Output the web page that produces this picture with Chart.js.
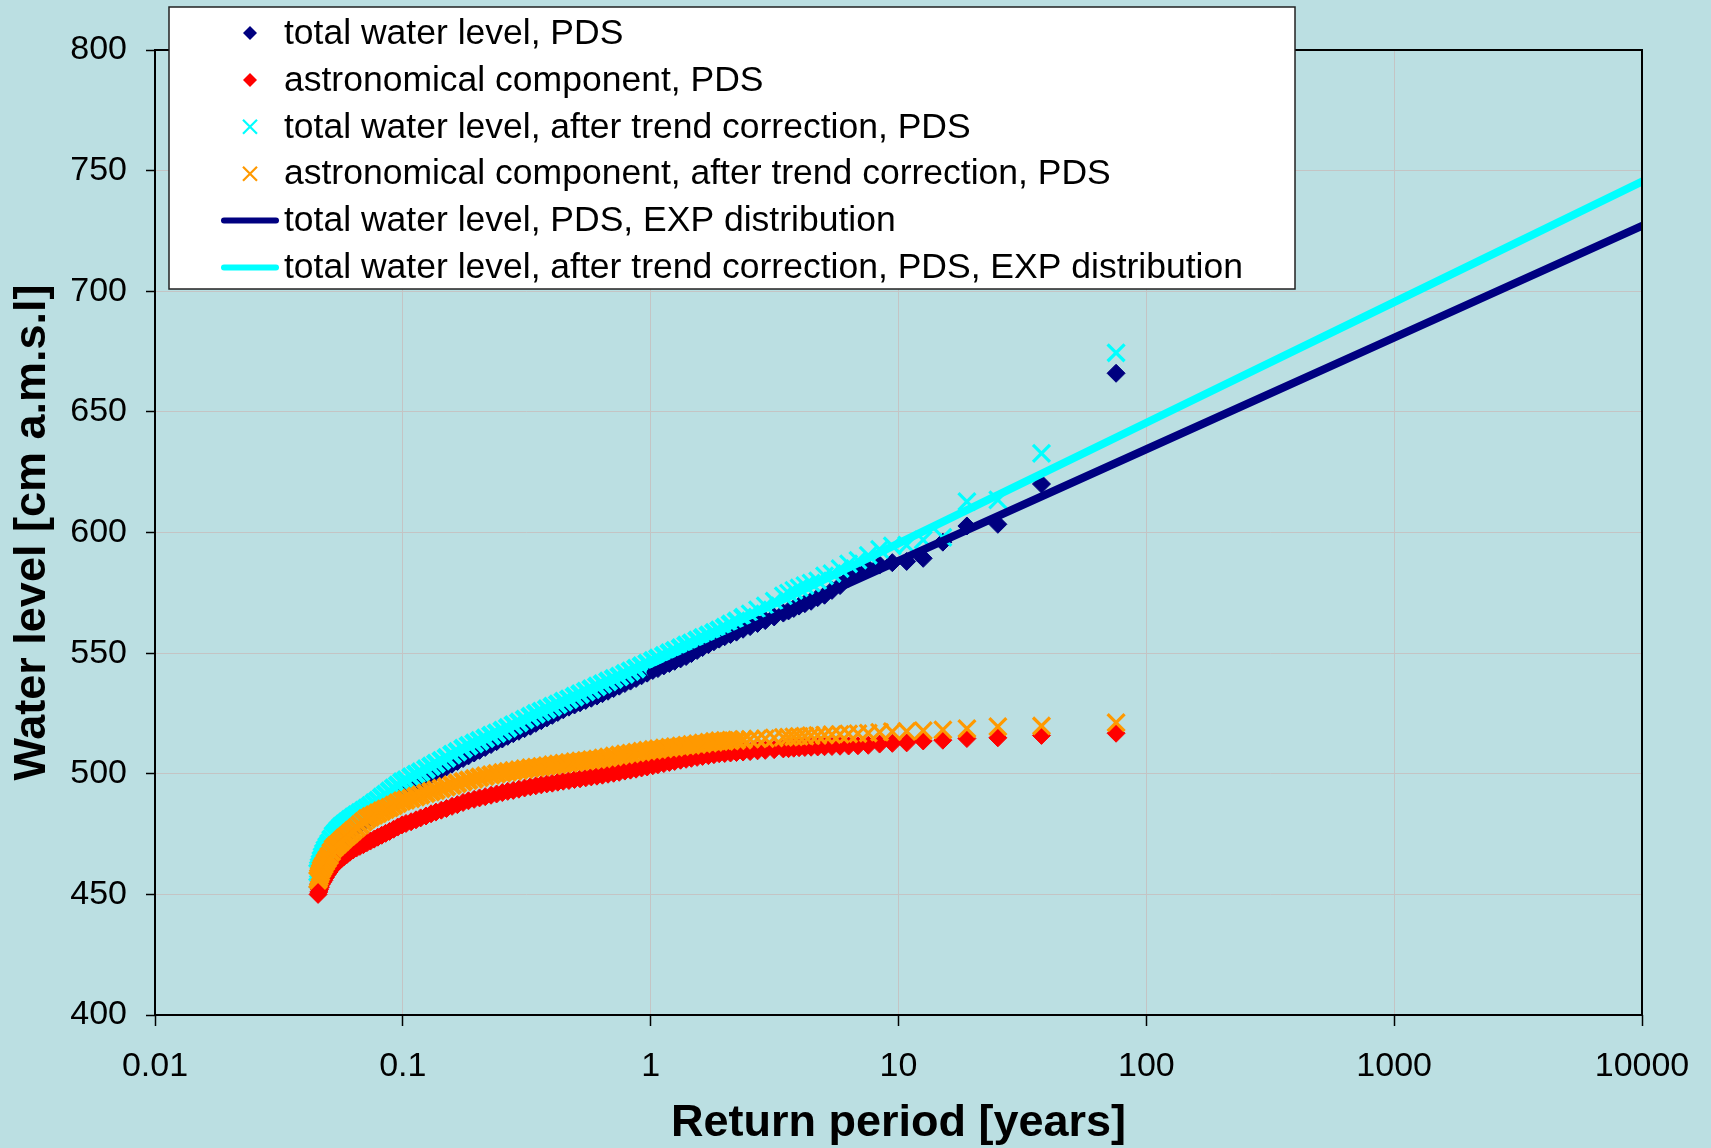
<!DOCTYPE html>
<html>
<head>
<meta charset="utf-8">
<title>Water level vs return period</title>
<script src="https://cdn.jsdelivr.net/npm/chart.js@4.4.1/dist/chart.umd.min.js"></script>
<style>
  html, body { margin: 0; padding: 0; background: #BBDFE2; }
  #wrap { width: 1711px; height: 1148px; }
</style>
</head>
<body>
<div id="wrap"><canvas id="chart" width="1711" height="1148"></canvas></div>
<script>
// Return periods [years] of the ranked peaks (shared by the four PDS series)
const returnPeriod = [
  0.0455, 0.0458, 0.0461, 0.0465, 0.0469, 0.0474, 0.0480, 0.0487, 0.0495, 0.0504,
  0.0514, 0.0525, 0.0537, 0.0550, 0.0564, 0.0579, 0.0595, 0.0612, 0.0630, 0.0650,
  0.0671, 0.0693, 0.0716, 0.0740, 0.0766, 0.0793, 0.0822, 0.0852, 0.0884, 0.0918,
  0.0954, 0.0992, 0.103, 0.108, 0.113, 0.118, 0.124, 0.130, 0.136, 0.143,
  0.150, 0.158, 0.166, 0.175, 0.184, 0.194, 0.204, 0.215, 0.227, 0.239,
  0.252, 0.265, 0.279, 0.294, 0.310, 0.327, 0.344, 0.362, 0.381, 0.401,
  0.422, 0.444, 0.468, 0.493, 0.519, 0.547, 0.576, 0.607, 0.639, 0.673,
  0.709, 0.747, 0.787, 0.829, 0.873, 0.919, 0.968, 1.02, 1.07, 1.13,
  1.19, 1.25, 1.32, 1.39, 1.46, 1.54, 1.62, 1.71, 1.80, 1.89,
  1.99, 2.10, 2.22, 2.36, 2.52, 2.70, 2.90, 3.15, 3.43, 3.60,
  3.78, 3.97, 4.19, 4.44, 4.72, 5.03, 5.39, 5.81, 6.29, 6.86,
  7.55, 8.39, 9.44, 10.79, 12.58, 15.10, 18.88, 25.17, 37.75, 75.50
];

// Total water level, PDS [cm a.m.s.l]
const totalPDS = [
  453.0, 454.3, 455.5, 456.8, 458.2, 459.4, 460.6, 462.2, 463.8, 465.3,
  466.5, 467.8, 469.2, 470.6, 472.1, 473.3, 474.5, 475.7, 476.9, 478.0,
  479.0, 480.0, 481.1, 482.2, 483.3, 484.4, 485.6, 486.7, 488.0, 489.2,
  490.5, 491.8, 492.8, 494.1, 495.4, 496.7, 498.0, 499.4, 500.6, 501.7,
  502.8, 504.0, 505.1, 506.3, 507.4, 508.6, 509.7, 510.9, 512.1, 513.3,
  514.4, 515.5, 516.6, 517.6, 518.7, 519.7, 520.9, 522.0, 523.1, 524.2,
  525.4, 526.5, 527.6, 528.5, 529.4, 530.4, 531.3, 532.2, 533.2, 534.2,
  535.3, 536.3, 537.4, 538.4, 539.5, 540.6, 541.7, 542.8, 543.6, 544.7,
  545.7, 546.6, 547.6, 548.6, 549.8, 551.1, 552.3, 553.5, 554.7, 555.8,
  556.8, 557.7, 558.7, 559.9, 561.0, 562.3, 563.5, 565.0, 566.6, 567.5,
  568.5, 569.5, 570.5, 571.5, 573.0, 574.0, 576.0, 578.0, 581.0, 583.0,
  585.0, 586.5, 587.5, 588.0, 589.3, 596.0, 602.7, 603.4, 620.1, 666.0
];

// Astronomical component, PDS
const astroPDS = [
  450.0, 451.0, 452.0, 453.0, 454.2, 455.0, 455.8, 457.0, 458.2, 459.3,
  460.5, 461.7, 462.6, 463.6, 464.6, 465.6, 466.5, 467.5, 468.4, 469.2,
  469.9, 470.6, 471.4, 472.1, 472.9, 473.7, 474.5, 475.3, 476.1, 477.0,
  477.9, 478.8, 479.4, 480.1, 480.9, 481.7, 482.5, 483.4, 484.1, 484.9,
  485.6, 486.5, 487.2, 488.1, 488.8, 489.4, 490.0, 490.5, 491.1, 491.6,
  492.2, 492.7, 493.1, 493.6, 494.1, 494.6, 495.0, 495.4, 495.8, 496.1,
  496.5, 496.9, 497.2, 497.6, 497.9, 498.3, 498.7, 499.0, 499.4, 499.8,
  500.2, 500.6, 501.1, 501.5, 501.9, 502.4, 502.8, 503.3, 503.7, 504.2,
  504.7, 505.1, 505.6, 506.0, 506.4, 506.8, 507.2, 507.5, 507.9, 508.3,
  508.4, 508.6, 508.8, 509.0, 509.2, 509.5, 509.7, 510.0, 510.3, 510.4,
  510.6, 510.8, 510.9, 511.0, 511.1, 511.2, 511.3, 511.4, 511.5, 511.6,
  511.8, 512.3, 512.6, 512.8, 513.6, 513.9, 514.6, 514.9, 515.9, 516.8
];

// Total water level after trend correction, PDS
const totalTrendPDS = [
  459.0, 460.3, 461.5, 462.8, 464.3, 465.8, 467.2, 468.6, 470.0, 471.3,
  472.9, 474.6, 475.7, 476.9, 478.1, 479.0, 480.0, 481.0, 481.9, 482.9,
  483.8, 484.7, 485.7, 486.7, 487.8, 488.9, 490.2, 491.4, 492.7, 494.0,
  495.2, 496.5, 497.4, 498.6, 499.7, 500.7, 501.9, 503.1, 504.2, 505.4,
  506.6, 507.9, 509.1, 510.4, 511.6, 512.6, 513.6, 514.7, 515.8, 516.8,
  517.9, 519.0, 520.2, 521.3, 522.5, 523.7, 524.8, 525.8, 526.8, 527.8,
  528.8, 529.9, 530.9, 532.0, 533.0, 534.1, 535.1, 536.2, 537.2, 538.3,
  539.3, 540.3, 541.4, 542.5, 543.6, 544.6, 545.7, 546.8, 547.8, 548.9,
  550.0, 551.0, 552.1, 553.2, 554.1, 555.3, 556.3, 557.4, 558.4, 559.4,
  560.6, 561.9, 563.2, 564.7, 566.3, 567.9, 569.6, 571.6, 573.7, 574.9,
  576.0, 577.0, 578.0, 579.0, 580.0, 582.0, 583.0, 585.0, 587.0, 588.5,
  590.5, 593.0, 594.5, 594.8, 596.9, 598.0, 612.8, 613.5, 632.8, 674.5
];

// Astronomical component after trend correction, PDS
const astroTrendPDS = [
  456.0, 457.0, 458.0, 459.0, 460.3, 461.2, 462.1, 463.4, 464.6, 465.9,
  467.5, 469.1, 470.1, 471.0, 472.1, 473.2, 474.2, 475.3, 476.4, 477.6,
  478.8, 480.1, 481.3, 482.1, 482.9, 483.7, 484.5, 485.3, 486.0, 486.9,
  487.8, 488.7, 489.2, 489.8, 490.5, 491.2, 491.9, 492.6, 493.2, 493.9,
  494.6, 495.3, 496.0, 496.7, 497.3, 497.9, 498.5, 499.0, 499.5, 500.0,
  500.4, 500.8, 501.2, 501.5, 501.9, 502.3, 502.6, 502.9, 503.2, 503.6,
  503.9, 504.2, 504.5, 504.8, 505.1, 505.4, 505.7, 506.0, 506.4, 506.8,
  507.2, 507.6, 508.0, 508.4, 508.8, 509.2, 509.6, 509.9, 510.2, 510.5,
  510.8, 511.1, 511.4, 511.7, 512.0, 512.3, 512.6, 512.9, 513.2, 513.5,
  513.6, 513.8, 513.9, 514.1, 514.3, 514.5, 514.6, 514.9, 515.1, 515.2,
  515.3, 515.5, 515.6, 515.8, 515.9, 516.0, 516.2, 516.3, 516.5, 516.6,
  516.8, 517.2, 517.5, 517.6, 517.9, 518.2, 518.7, 519.5, 519.8, 521.2
];

// Fitted exponential distributions
const fitPeriod = [1, 10, 100, 1000, 10000];
const totalFitEXP = [541.9, 588.2, 634.5, 680.8, 727.1];
const trendFitEXP = [545.5, 595.5, 645.5, 695.5, 745.5];

// Axis ticks
const xTickValues = [0.01, 0.1, 1, 10, 100, 1000, 10000];
const xTickLabels = ['0.01', '0.1', '1', '10', '100', '1000', '10000'];
const yTickMin = 400, yTickMax = 800, yTickStep = 50;

const seriesNames = [
  'total water level, PDS',
  'astronomical component, PDS',
  'total water level, after trend correction, PDS',
  'astronomical component, after trend correction, PDS',
  'total water level, PDS, EXP distribution',
  'total water level, after trend correction, PDS, EXP distribution'
];

const FONT = "'Liberation Sans', Arial, Helvetica, sans-serif";
const BG = '#BBDFE2';
const NAVY = '#000080', RED = '#FF0000', CYAN = '#00FFFF', ORANGE = '#FF9900';

const toPoints = (xs, ys) => xs.map((x, i) => ({ x: x, y: ys[i] }));

// Crosses in the crowded part of the series are stroked a little heavier
const crossStroke = (c) => (c.raw && c.raw.x < 2.5 ? 4.5 : 3.2);

function markerSet(label, ys, style, color, order) {
  const diamond = style === 'rectRot';
  return {
    label: label,
    data: toPoints(returnPeriod, ys),
    showLine: false,
    pointStyle: style,
    pointRadius: diamond ? 9 : 12,
    pointHoverRadius: diamond ? 9 : 12,
    pointBackgroundColor: color,
    pointBorderColor: color,
    pointBorderWidth: diamond ? 1 : crossStroke,
    borderColor: color,
    backgroundColor: color,
    order: order
  };
}

function fitLine(label, ys, color, order) {
  return {
    label: label,
    data: toPoints(fitPeriod, ys),
    showLine: true,
    borderColor: color,
    backgroundColor: color,
    borderWidth: 8,
    borderCapStyle: 'round',
    pointRadius: 0,
    pointHoverRadius: 0,
    tension: 0,
    fill: false,
    order: order
  };
}

// Page background
const backdrop = {
  id: 'backdrop',
  beforeDraw(chart) {
    const ctx = chart.ctx;
    ctx.save();
    ctx.fillStyle = BG;
    ctx.fillRect(0, 0, chart.width, chart.height);
    ctx.restore();
  }
};

// Black frame round the plot area
const frame = {
  id: 'frame',
  afterDatasetsDraw(chart) {
    const a = chart.chartArea, ctx = chart.ctx;
    ctx.save();
    ctx.strokeStyle = '#000';
    ctx.lineWidth = 2;
    ctx.strokeRect(a.left, a.top, a.right - a.left, a.bottom - a.top);
    ctx.restore();
  }
};

// Boxed legend in the upper left, overlapping the plot
const legendPanel = {
  id: 'legendPanel',
  afterDraw(chart) {
    const ctx = chart.ctx;
    const box = { x: 169, y: 7, w: 1126, h: 282 };
    const rowTop = 33, rowStep = 46.9;
    const symX = 250, textX = 284;
    ctx.save();
    ctx.fillStyle = '#FFFFFF';
    ctx.fillRect(box.x, box.y, box.w, box.h);
    ctx.strokeStyle = '#222';
    ctx.lineWidth = 1.5;
    ctx.strokeRect(box.x, box.y, box.w, box.h);
    chart.data.datasets.forEach((ds, i) => {
      const cy = rowTop + i * rowStep;
      if (ds.showLine) {
        ctx.strokeStyle = ds.borderColor;
        ctx.lineWidth = 6;
        ctx.lineCap = 'round';
        ctx.beginPath();
        ctx.moveTo(224, cy);
        ctx.lineTo(276, cy);
        ctx.stroke();
      } else if (ds.pointStyle === 'rectRot') {
        const r = 7;
        ctx.fillStyle = ds.pointBackgroundColor;
        ctx.beginPath();
        ctx.moveTo(symX, cy - r);
        ctx.lineTo(symX + r, cy);
        ctx.lineTo(symX, cy + r);
        ctx.lineTo(symX - r, cy);
        ctx.closePath();
        ctx.fill();
      } else {
        const r = 7;
        ctx.strokeStyle = ds.pointBorderColor;
        ctx.lineWidth = 2.2;
        ctx.lineCap = 'butt';
        ctx.beginPath();
        ctx.moveTo(symX - r, cy - r); ctx.lineTo(symX + r, cy + r);
        ctx.moveTo(symX + r, cy - r); ctx.lineTo(symX - r, cy + r);
        ctx.stroke();
      }
      ctx.fillStyle = '#000';
      ctx.font = '35.5px ' + FONT;
      ctx.textBaseline = 'middle';
      ctx.textAlign = 'left';
      ctx.fillText(ds.label, textX, cy + 1);
    });
    ctx.restore();
  }
};

new Chart(document.getElementById('chart'), {
  type: 'scatter',
  data: {
    datasets: [
      markerSet(seriesNames[0], totalPDS, 'rectRot', NAVY, 6),
      markerSet(seriesNames[1], astroPDS, 'rectRot', RED, 5),
      markerSet(seriesNames[2], totalTrendPDS, 'crossRot', CYAN, 4),
      markerSet(seriesNames[3], astroTrendPDS, 'crossRot', ORANGE, 3),
      fitLine(seriesNames[4], totalFitEXP, NAVY, 2),
      fitLine(seriesNames[5], trendFitEXP, CYAN, 1)
    ]
  },
  options: {
    responsive: false,
    devicePixelRatio: 1,
    animation: false,
    events: [],
    layout: { padding: { left: 0, right: 69, top: 50, bottom: 0 } },
    plugins: {
      legend: { display: false },
      tooltip: { enabled: false }
    },
    scales: {
      x: {
        type: 'logarithmic',
        min: xTickValues[0],
        max: xTickValues[xTickValues.length - 1],
        afterBuildTicks(scale) {
          scale.ticks = xTickValues.map(v => ({ value: v }));
        },
        afterFit(scale) { scale.height = 133; },
        ticks: {
          autoSkip: false,
          maxRotation: 0,
          color: '#000',
          padding: 20,
          font: { family: FONT, size: 34 },
          callback(value) {
            const i = xTickValues.indexOf(value);
            return i >= 0 ? xTickLabels[i] : '';
          }
        },
        grid: { color: '#C4C4C4', lineWidth: 1, tickColor: '#000', tickLength: 11, tickWidth: 1.5 },
        border: { display: false },
        title: {
          display: true,
          text: 'Return period [years]',
          color: '#000',
          font: { family: FONT, size: 45, weight: 'bold', lineHeight: 1.08 },
          padding: { top: 0, bottom: 0 }
        }
      },
      y: {
        type: 'linear',
        min: yTickMin,
        max: yTickMax,
        afterFit(scale) { scale.width = 155; },
        ticks: {
          stepSize: yTickStep,
          color: '#000',
          padding: 19,
          font: { family: FONT, size: 34 }
        },
        grid: { color: '#C4C4C4', lineWidth: 1, tickColor: '#000', tickLength: 9, tickWidth: 1.5 },
        border: { display: false },
        title: {
          display: true,
          text: 'Water level [cm a.m.s.l]',
          color: '#000',
          font: { family: FONT, size: 45, weight: 'bold' },
          padding: { top: 6, bottom: 0 }
        }
      }
    }
  },
  plugins: [backdrop, frame, legendPanel]
});
</script>
</body>
</html>
